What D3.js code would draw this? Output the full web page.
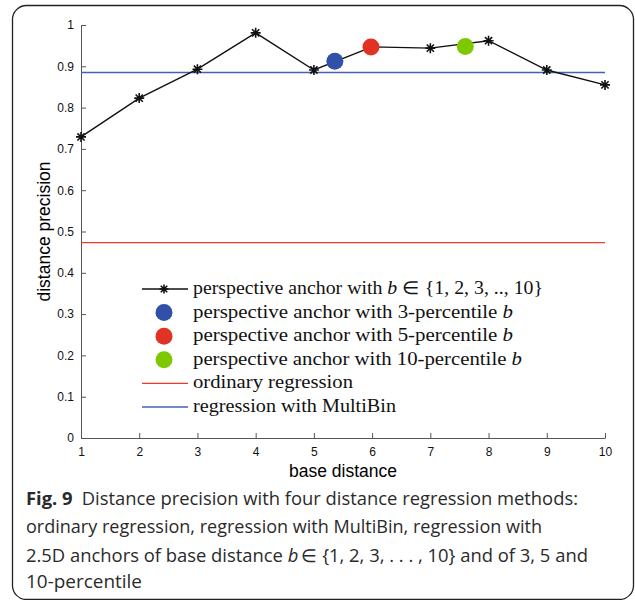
<!DOCTYPE html>
<html>
<head>
<meta charset="utf-8">
<script src="https://cdn.jsdelivr.net/npm/d3@7"></script>
<style>
  body { margin: 0; background: #fff; }
  svg { display: block; }
  .tick text { font-family: "Liberation Sans", Arial, sans-serif; font-size: 12px; fill: #111; }
  .axis path, .axis line { stroke: #555; }
  .legend text { font-family: "Liberation Serif", serif; font-size: 18px; fill: #111; }
  .caption { font-family: "Open Sans", sans-serif; font-size: 18.4px; fill: #2a2a2a; }
</style>
</head>
<body>
<div id="chart"></div>
<script>
const width = 635;
const height = 600;

// perspective anchor with b in {1..10}
const baseDistance = [1, 2, 3, 4, 5, 6, 7, 8, 9, 10];
const anchorPrecision = [0.729, 0.823, 0.893, 0.981, 0.891, 0.947, 0.944, 0.962, 0.891, 0.855];

// percentile anchors
const percentileNames = ['3-percentile', '5-percentile', '10-percentile'];
const percentileB = [5.36, 5.98, 7.6];
const percentilePrecision = [0.912, 0.947, 0.948];
const percentileColors = ['#3150a8', '#e13223', '#7ec800'];

// flat baselines
const ordinaryRegression = 0.473;
const multiBinRegression = 0.885;

const yTicks = [0, 0.1, 0.2, 0.3, 0.4, 0.5, 0.6, 0.7, 0.8, 0.9, 1];
const yTickLabels = ['0', '0.1', '0.2', '0.3', '0.4', '0.5', '0.6', '0.7', '0.8', '0.9', '1'];

const x = d3.scaleLinear().domain([1, 10]).range([81, 605]);
const y = d3.scaleLinear().domain([0, 1]).range([438, 25]);

const svg = d3.select('#chart')
    .append('svg')
    .attr('width', width)
    .attr('height', height);

// rounded frame round figure + caption
svg.append('rect')
    .attr('x', 12.5).attr('y', 5.5)
    .attr('width', 621).attr('height', 594)
    .attr('rx', 14)
    .attr('fill', 'none')
    .attr('stroke', '#222')
    .attr('stroke-width', 1.3);

// axes
svg.append('g')
    .attr('class', 'axis')
    .attr('transform', `translate(0,${y(0)})`)
    .call(d3.axisBottom(x).tickValues(baseDistance).tickFormat(d3.format('d'))
        .tickSizeInner(-5).tickSizeOuter(0).tickPadding(9));

svg.append('g')
    .attr('class', 'axis')
    .attr('transform', `translate(${x(1)},0)`)
    .call(d3.axisLeft(y).tickValues(yTicks).tickFormat((d, i) => yTickLabels[i])
        .tickSizeInner(-5).tickSizeOuter(0).tickPadding(7));

svg.append('text')
    .attr('transform', `translate(50,${(y(0) + y(1)) / 2}) rotate(-90)`)
    .attr('text-anchor', 'middle')
    .style('font-family', '"Liberation Sans", Arial, sans-serif')
    .style('font-size', '17.5px')
    .text('distance precision');

svg.append('text')
    .attr('x', (x(1) + x(10)) / 2)
    .attr('y', 477)
    .attr('text-anchor', 'middle')
    .style('font-family', '"Liberation Sans", Arial, sans-serif')
    .style('font-size', '17.5px')
    .text('base distance');

// horizontal regressions
svg.append('line')
    .attr('x1', x(1)).attr('x2', x(10))
    .attr('y1', y(ordinaryRegression)).attr('y2', y(ordinaryRegression))
    .attr('stroke', '#e8392b').attr('stroke-width', 1.3);

svg.append('line')
    .attr('x1', x(1)).attr('x2', x(10))
    .attr('y1', y(multiBinRegression)).attr('y2', y(multiBinRegression))
    .attr('stroke', '#4462b0').attr('stroke-width', 1.5);

// star marker like matlab '*'
const star = (cx, cy, r) => {
    const d = r * 0.72;
    return `M${cx - r},${cy}L${cx + r},${cy}M${cx},${cy - r}L${cx},${cy + r}` +
        `M${cx - d},${cy - d}L${cx + d},${cy + d}M${cx - d},${cy + d}L${cx + d},${cy - d}`;
};

const line = d3.line().x(d => x(d[0])).y(d => y(d[1]));
const anchorPts = baseDistance.map((b, i) => [b, anchorPrecision[i]]);

svg.append('path')
    .datum(anchorPts)
    .attr('d', line)
    .attr('fill', 'none')
    .attr('stroke', '#111')
    .attr('stroke-width', 1.4);

svg.append('g')
    .selectAll('path')
    .data(anchorPts)
    .join('path')
    .attr('d', d => star(x(d[0]), y(d[1]), 5))
    .attr('stroke', '#111')
    .attr('stroke-width', 1.6);

svg.append('g')
    .selectAll('circle')
    .data(percentileB)
    .join('circle')
    .attr('cx', d => x(d))
    .attr('cy', (d, i) => y(percentilePrecision[i]))
    .attr('r', 8.5)
    .attr('fill', (d, i) => percentileColors[i]);

// legend
const legend = svg.append('g').attr('class', 'legend');
const rowY = i => 289 + i * 23.6;
const lx0 = 142, lx1 = 188, lmid = 164, tx = 193;

legend.append('line')
    .attr('x1', lx0).attr('x2', lx1).attr('y1', rowY(0)).attr('y2', rowY(0))
    .attr('stroke', '#111').attr('stroke-width', 1.4);
legend.append('path')
    .attr('d', star(lmid, rowY(0), 4.5))
    .attr('stroke', '#111').attr('stroke-width', 1.6);

const t0 = legend.append('text').attr('x', tx).attr('y', rowY(0) + 5)
    .attr('textLength', 350).attr('lengthAdjust', 'spacingAndGlyphs');
t0.append('tspan').text('perspective anchor with ');
t0.append('tspan').style('font-style', 'italic').text('b');
t0.append('tspan').text(' \u2208 {1, 2, 3, .., 10}');

const percentileLen = [320, 320, 329];
percentileNames.forEach((name, i) => {
    legend.append('circle')
        .attr('cx', lmid).attr('cy', rowY(i + 1)).attr('r', 8.5)
        .attr('fill', percentileColors[i]);
    const t = legend.append('text').attr('x', tx).attr('y', rowY(i + 1) + 5)
        .attr('textLength', percentileLen[i]).attr('lengthAdjust', 'spacingAndGlyphs');
    t.append('tspan').text(`perspective anchor with ${name} `);
    t.append('tspan').style('font-style', 'italic').text('b');
});

legend.append('line')
    .attr('x1', lx0).attr('x2', lx1).attr('y1', rowY(4)).attr('y2', rowY(4))
    .attr('stroke', '#e8392b').attr('stroke-width', 1.3);
legend.append('text').attr('x', tx).attr('y', rowY(4) + 5)
    .attr('textLength', 160).attr('lengthAdjust', 'spacingAndGlyphs')
    .text('ordinary regression');

legend.append('line')
    .attr('x1', lx0).attr('x2', lx1).attr('y1', rowY(5)).attr('y2', rowY(5))
    .attr('stroke', '#4462b0').attr('stroke-width', 1.5);
legend.append('text').attr('x', tx).attr('y', rowY(5) + 5)
    .attr('textLength', 203).attr('lengthAdjust', 'spacingAndGlyphs')
    .text('regression with MultiBin');

// caption
const cap = svg.append('g');
const c1 = cap.append('text').attr('class', 'caption').attr('x', 26).attr('y', 505)
    .attr('textLength', 552).attr('lengthAdjust', 'spacingAndGlyphs');
c1.append('tspan').style('font-weight', 'bold').text('Fig. 9');
c1.append('tspan').text('\u2002Distance precision with four distance regression methods:');
cap.append('text').attr('class', 'caption').attr('x', 26).attr('y', 533)
    .attr('textLength', 516).attr('lengthAdjust', 'spacingAndGlyphs')
    .text('ordinary regression, regression with MultiBin, regression with');
const c3 = cap.append('text').attr('class', 'caption').attr('x', 26).attr('y', 562);
c3.append('tspan').text('2.5D anchors of base distance ');
c3.append('tspan').style('font-style', 'italic').text('b');
c3.append('tspan').text('\u2009\u2208 {1, 2, 3, . . . , 10} and of 3, 5 and');
cap.append('text').attr('class', 'caption').attr('x', 26).attr('y', 588)
    .attr('textLength', 116).attr('lengthAdjust', 'spacingAndGlyphs')
    .text('10-percentile');
</script>
</body>
</html>
